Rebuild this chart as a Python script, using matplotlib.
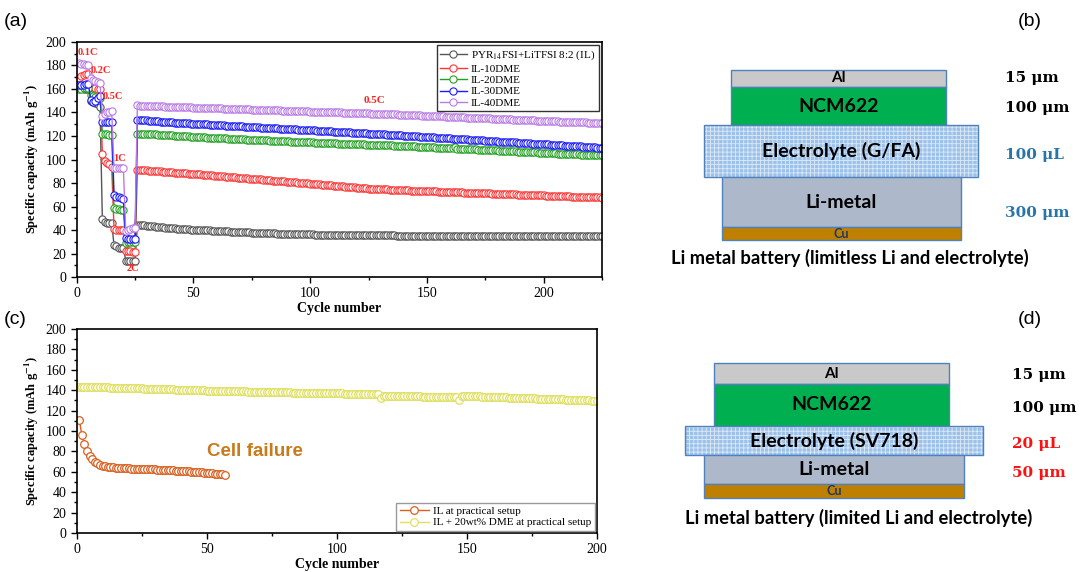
import numpy as np
import matplotlib
matplotlib.use("Agg")
import matplotlib.pyplot as plt
from matplotlib.patches import Rectangle
from matplotlib.ticker import MultipleLocator

plt.rcParams['font.family'] = ['Liberation Serif', 'DejaVu Serif']
plt.rcParams['mathtext.fontset'] = 'stix'
plt.rcParams['hatch.linewidth'] = 0.6

# ---------------- panel (a) data: rate test (cycles 1-25) + 0.5C cycling (26-225)
rate_il = [161, 161, 160, 160, 160, 150, 149, 148, 147, 145, 49, 47, 46, 46, 46,
           27, 26, 25, 25, 25, 14, 14, 14, 14, 14]
rate_10 = [169, 171, 172, 173, 173, 163, 162, 161, 160, 160, 105, 99, 97, 96, 94,
           41, 40, 40, 40, 40, 22, 22, 22, 21, 21]
rate_20 = [160, 160, 161, 161, 161, 155, 154, 153, 152, 152, 122, 122, 122, 121, 121,
           59, 58, 58, 57, 57, 29, 30, 30, 30, 30]
rate_30 = [163, 163, 163, 164, 164, 151, 149, 150, 152, 154, 132, 132, 132, 132, 132,
           70, 68, 68, 67, 66, 33, 32, 32, 32, 32]
rate_40 = [182, 181, 181, 180, 180, 169, 168, 167, 166, 165, 137, 139, 140, 140, 141,
           93, 93, 93, 93, 93, 39, 40, 41, 42, 42]

long_il = [44.5, 44.3, 44.1, 43.9, 43.7, 43.5, 43.3, 43.1, 42.9, 42.7,
           42.5, 42.3, 42.1, 41.9, 41.7, 41.5, 41.4, 41.2, 41.0, 40.9,
           40.8, 40.6, 40.5, 40.4, 40.3, 40.2, 40.1, 40.0, 39.9, 39.8,
           39.7, 39.6, 39.5, 39.4, 39.3, 39.2, 39.1, 39.0, 38.9, 38.8,
           38.7, 38.6, 38.5, 38.4, 38.3, 38.2, 38.1, 38.0, 37.9, 37.8,
           37.8, 37.7, 37.6, 37.5, 37.4, 37.4, 37.3, 37.2, 37.1, 37.1,
           37.0, 36.9, 36.9, 36.8, 36.7, 36.7, 36.6, 36.6, 36.5, 36.5,
           36.4, 36.4, 36.3, 36.3, 36.2, 36.2, 36.1, 36.1, 36.0, 36.0,
           36.0, 35.9, 35.9, 35.9, 35.8, 35.8, 35.8, 35.7, 35.7, 35.7,
           35.7, 35.6, 35.6, 35.6, 35.6, 35.5, 35.5, 35.5, 35.5, 35.5,
           35.4, 35.4, 35.4, 35.4, 35.4, 35.4, 35.4, 35.4, 35.4, 35.4,
           35.4, 35.3, 35.3, 35.3, 35.3, 35.3, 35.3, 35.3, 35.3, 35.3,
           35.3, 35.3, 35.3, 35.3, 35.3, 35.2, 35.2, 35.2, 35.2, 35.2,
           35.2, 35.2, 35.2, 35.2, 35.2, 35.2, 35.2, 35.2, 35.2, 35.2,
           35.1, 35.1, 35.1, 35.1, 35.1, 35.1, 35.1, 35.1, 35.1, 35.1,
           35.1, 35.1, 35.1, 35.1, 35.1, 35.0, 35.0, 35.0, 35.0, 35.0,
           35.0, 35.0, 35.0, 35.0, 35.0, 35.0, 35.0, 35.0, 35.0, 35.0,
           35.0, 35.0, 35.0, 35.0, 35.0, 35.0, 35.0, 35.0, 35.0, 35.0,
           35.0, 35.0, 35.0, 35.0, 35.0, 34.9, 34.9, 34.9, 34.9, 34.9,
           34.9, 34.9, 34.9, 34.9, 34.9, 34.9, 34.9, 34.9, 34.9, 34.9]
long_10 = [91.3, 91.2, 91.0, 90.9, 90.7, 90.6, 90.4, 90.3, 90.1, 90.0,
           89.8, 89.7, 89.5, 89.4, 89.2, 89.1, 88.9, 88.8, 88.6, 88.5,
           88.3, 88.2, 88.0, 87.9, 87.7, 87.6, 87.4, 87.3, 87.1, 86.9,
           86.8, 86.6, 86.5, 86.3, 86.1, 86.0, 85.8, 85.6, 85.5, 85.3,
           85.1, 85.0, 84.8, 84.6, 84.5, 84.3, 84.1, 84.0, 83.8, 83.6,
           83.5, 83.3, 83.1, 83.0, 82.8, 82.6, 82.5, 82.3, 82.1, 82.0,
           81.8, 81.6, 81.5, 81.3, 81.1, 81.0, 80.8, 80.6, 80.5, 80.3,
           80.1, 80.0, 79.8, 79.6, 79.5, 79.3, 79.1, 79.0, 78.8, 78.6,
           78.5, 78.3, 78.1, 78.0, 77.8, 77.6, 77.5, 77.3, 77.1, 77.0,
           76.8, 76.6, 76.5, 76.3, 76.1, 76.0, 75.8, 75.6, 75.5, 75.3,
           75.2, 75.1, 75.0, 74.9, 74.8, 74.7, 74.6, 74.5, 74.4, 74.3,
           74.2, 74.1, 74.0, 73.9, 73.9, 73.8, 73.7, 73.6, 73.6, 73.5,
           73.4, 73.3, 73.3, 73.2, 73.1, 73.0, 73.0, 72.9, 72.8, 72.7,
           72.7, 72.6, 72.5, 72.4, 72.4, 72.3, 72.2, 72.1, 72.1, 72.0,
           71.9, 71.8, 71.8, 71.7, 71.6, 71.6, 71.5, 71.4, 71.3, 71.3,
           71.2, 71.1, 71.0, 71.0, 70.9, 70.8, 70.7, 70.7, 70.6, 70.5,
           70.4, 70.4, 70.3, 70.2, 70.2, 70.1, 70.0, 69.9, 69.9, 69.8,
           69.7, 69.6, 69.6, 69.5, 69.4, 69.3, 69.3, 69.2, 69.1, 69.0,
           69.0, 68.9, 68.8, 68.8, 68.7, 68.6, 68.5, 68.5, 68.4, 68.3,
           68.2, 68.2, 68.1, 68.0, 67.9, 67.9, 67.8, 67.7, 67.7, 67.6]
long_20 = [122.0, 122.1, 122.0, 121.9, 121.8, 121.7, 121.5, 121.4, 121.3, 121.2,
           121.1, 121.0, 120.8, 120.7, 120.6, 120.5, 120.4, 120.2, 120.1, 120.0,
           119.9, 119.8, 119.6, 119.5, 119.4, 119.3, 119.1, 119.0, 118.9, 118.8,
           118.7, 118.6, 118.5, 118.4, 118.3, 118.2, 118.1, 118.0, 117.9, 117.8,
           117.7, 117.6, 117.5, 117.4, 117.3, 117.2, 117.1, 117.0, 116.9, 116.8,
           116.7, 116.6, 116.6, 116.5, 116.4, 116.3, 116.2, 116.1, 116.0, 115.9,
           115.8, 115.8, 115.7, 115.6, 115.5, 115.4, 115.3, 115.2, 115.1, 115.0,
           115.0, 114.9, 114.8, 114.7, 114.6, 114.5, 114.4, 114.4, 114.3, 114.2,
           114.1, 114.0, 113.9, 113.9, 113.8, 113.7, 113.6, 113.5, 113.5, 113.4,
           113.3, 113.2, 113.2, 113.1, 113.0, 112.9, 112.9, 112.8, 112.7, 112.7,
           112.6, 112.5, 112.5, 112.4, 112.3, 112.3, 112.2, 112.1, 112.1, 112.0,
           111.9, 111.8, 111.7, 111.6, 111.5, 111.4, 111.4, 111.3, 111.2, 111.1,
           111.0, 110.9, 110.8, 110.7, 110.6, 110.5, 110.4, 110.3, 110.2, 110.1,
           110.0, 109.9, 109.8, 109.7, 109.6, 109.5, 110.6, 109.3, 109.2, 109.1,
           109.0, 108.9, 108.8, 108.8, 108.7, 108.6, 108.5, 108.4, 108.3, 108.2,
           108.1, 108.0, 107.9, 107.8, 107.7, 107.6, 107.5, 107.4, 107.3, 107.2,
           107.1, 107.0, 106.9, 106.8, 106.7, 106.6, 106.5, 106.4, 106.3, 106.2,
           106.1, 106.0, 105.9, 105.8, 105.7, 105.6, 105.5, 105.4, 105.3, 105.2,
           105.1, 105.0, 104.9, 104.8, 104.8, 104.7, 104.6, 104.5, 104.4, 104.3,
           104.2, 104.2, 104.1, 104.0, 104.0, 103.9, 103.9, 103.8, 103.8, 103.7]
long_30 = [133.8, 133.6, 133.5, 133.3, 133.2, 133.0, 132.9, 132.7, 132.6, 132.4,
           132.3, 132.1, 132.0, 131.8, 131.7, 131.5, 131.4, 131.3, 131.1, 131.0,
           130.9, 130.8, 130.7, 130.6, 130.5, 130.4, 130.3, 130.2, 130.1, 129.9,
           129.8, 129.7, 129.6, 129.5, 129.4, 129.3, 129.2, 129.0, 128.9, 128.8,
           128.7, 128.6, 128.5, 128.4, 128.3, 128.1, 128.0, 127.9, 127.8, 127.7,
           127.6, 127.5, 127.4, 127.2, 127.1, 127.0, 126.9, 126.8, 126.7, 126.6,
           126.5, 126.3, 126.2, 126.1, 126.0, 125.9, 125.8, 125.7, 125.6, 125.4,
           125.3, 125.2, 125.1, 125.0, 124.9, 124.8, 124.7, 124.5, 124.4, 124.3,
           124.2, 124.1, 124.0, 123.9, 123.8, 123.6, 123.5, 123.4, 123.3, 123.2,
           123.1, 123.0, 122.9, 122.7, 122.6, 122.5, 122.4, 122.3, 122.2, 122.1,
           122.0, 121.8, 121.7, 121.6, 121.5, 121.4, 121.3, 121.2, 121.1, 120.9,
           120.8, 120.7, 120.6, 120.5, 120.3, 120.2, 120.1, 120.0, 119.9, 119.7,
           119.6, 119.5, 119.4, 119.3, 119.1, 119.0, 118.9, 118.8, 118.6, 118.5,
           118.4, 118.3, 118.2, 118.0, 117.9, 117.8, 117.7, 117.5, 117.4, 117.3,
           117.2, 117.1, 116.9, 116.8, 116.7, 116.6, 116.4, 116.3, 116.2, 116.1,
           116.0, 115.8, 115.7, 115.6, 115.5, 115.3, 115.2, 115.1, 115.0, 114.9,
           114.7, 114.6, 114.5, 114.4, 114.2, 114.1, 114.0, 113.9, 113.8, 113.6,
           113.5, 113.4, 113.3, 113.1, 113.0, 112.9, 112.8, 112.7, 112.5, 112.4,
           112.3, 112.2, 112.0, 111.9, 111.8, 111.7, 111.6, 111.4, 111.3, 111.2,
           111.1, 110.9, 110.8, 110.7, 110.6, 110.5, 110.3, 110.2, 110.1, 110.0]
long_40 = [146.0, 145.9, 145.8, 145.8, 145.7, 145.6, 145.5, 145.5, 145.4, 145.3,
           145.2, 145.2, 145.1, 145.0, 144.9, 144.9, 144.8, 144.7, 144.6, 144.6,
           144.5, 144.4, 144.3, 144.3, 144.2, 144.1, 144.0, 144.0, 143.9, 143.8,
           143.8, 143.7, 143.6, 143.6, 143.5, 143.4, 143.4, 143.3, 143.2, 143.2,
           143.1, 143.0, 143.0, 142.9, 142.8, 142.8, 142.7, 142.6, 142.6, 142.5,
           142.4, 142.4, 142.3, 142.2, 142.2, 142.1, 142.0, 142.0, 141.9, 141.8,
           141.8, 141.7, 141.6, 141.6, 141.5, 141.4, 141.4, 141.3, 141.2, 141.2,
           141.1, 141.0, 141.0, 140.9, 140.8, 140.8, 140.7, 140.6, 140.6, 140.5,
           140.4, 140.4, 140.3, 140.2, 140.2, 140.1, 140.0, 140.0, 139.9, 139.8,
           139.8, 139.7, 139.6, 139.6, 139.5, 139.4, 139.4, 139.3, 139.2, 139.2,
           139.1, 139.0, 139.0, 138.9, 138.8, 138.8, 138.7, 138.6, 138.6, 138.5,
           138.4, 138.3, 138.2, 138.2, 138.1, 138.0, 137.9, 137.8, 137.7, 137.6,
           137.6, 137.5, 137.4, 137.3, 137.2, 137.1, 137.0, 137.0, 136.9, 136.8,
           136.7, 136.6, 136.5, 136.4, 136.3, 136.3, 136.2, 136.1, 136.0, 135.9,
           135.8, 135.7, 135.7, 135.6, 135.5, 135.4, 135.3, 135.2, 135.1, 135.0,
           135.0, 134.9, 134.8, 134.7, 134.6, 134.5, 134.4, 134.4, 134.3, 134.2,
           134.1, 134.0, 133.9, 133.8, 133.7, 133.7, 133.6, 133.5, 133.4, 133.3,
           133.2, 133.1, 133.1, 133.0, 132.9, 132.8, 132.7, 132.6, 132.5, 132.4,
           132.4, 132.3, 132.2, 132.1, 132.0, 131.9, 131.8, 131.8, 131.7, 131.6,
           131.6, 131.5, 131.5, 131.4, 131.4, 131.3, 131.3, 131.2, 131.2, 131.1]

labels_a = ["PYR$_{14}$FSI+LiTFSI 8:2 (IL)", "IL-10DME", "IL-20DME", "IL-30DME", "IL-40DME"]
colors_a = ["#555555", "#ff3535", "#22a022", "#1a1aff", "#b97be6"]
series_a = [rate_il + long_il, rate_10 + long_10, rate_20 + long_20,
            rate_30 + long_30, rate_40 + long_40]

rate_names = ["0.1C", "0.2C", "0.5C", "1C", "2C", "0.5C"]
rate_pos = [(0.3, 191), (6, 176), (11, 154), (15.5, 101), (21.5, 7), (123, 150)]
rate_fs = [7.5, 7.5, 7.5, 7.5, 7.5, 8]

# ---------------- panel (c) data
c_il = [111, 96, 87, 80, 75.5, 72.5, 70, 68.5, 67, 66,
        65.5, 65, 64.7, 64.4, 64.2, 64.0, 63.8, 63.6, 63.4, 63.3,
        63.2, 63.1, 63.0, 62.9, 62.8, 62.7, 62.6, 62.5, 62.4, 62.3,
        62.2, 62.1, 62.0, 61.8, 61.7, 61.5, 61.4, 61.2, 61.1, 60.9,
        60.7, 60.6, 60.4, 60.2, 60.0, 59.8, 59.6, 59.4, 59.2, 59.0,
        58.7, 58.5, 58.2, 58.0, 57.7, 57.4, 57.0]
c_dme = [143.6, 143.5, 143.4, 143.4, 143.3, 143.2, 143.1, 143.0, 143.0, 142.9,
         142.8, 142.7, 142.6, 142.6, 142.5, 142.4, 142.3, 142.2, 142.2, 142.1,
         142.0, 141.9, 141.8, 141.8, 141.7, 141.6, 141.5, 141.4, 141.4, 141.3,
         141.2, 141.1, 141.0, 141.0, 140.9, 140.8, 140.7, 140.6, 140.6, 140.5,
         140.4, 140.3, 140.3, 140.2, 140.1, 140.0, 140.0, 139.9, 139.8, 139.7,
         139.7, 139.6, 139.5, 139.5, 139.4, 139.3, 139.3, 139.2, 139.1, 139.1,
         139.0, 138.9, 138.9, 138.8, 138.8, 138.7, 138.6, 138.6, 138.5, 138.5,
         138.4, 138.3, 138.3, 138.2, 138.2, 138.1, 138.0, 138.0, 137.9, 137.9,
         137.8, 137.8, 137.7, 137.7, 137.6, 137.6, 137.5, 137.5, 137.4, 137.4,
         137.3, 137.3, 137.2, 137.2, 137.1, 137.1, 137.0, 137.0, 136.9, 136.9,
         136.8, 136.8, 136.7, 136.7, 136.6, 136.6, 136.5, 136.5, 136.4, 136.4,
         136.3, 136.3, 136.2, 136.2, 136.1, 136.1, 132.5, 134.6, 134.5, 134.5,
         134.4, 134.4, 134.3, 134.3, 134.2, 134.2, 134.1, 134.1, 134.0, 134.0,
         133.9, 133.9, 133.8, 133.8, 133.7, 133.7, 133.7, 133.6, 133.6, 133.5,
         133.5, 133.5, 133.4, 133.4, 133.3, 133.3, 130.3, 134.6, 134.5, 134.4,
         134.3, 134.2, 134.1, 134.0, 133.9, 133.8, 133.7, 133.6, 133.5, 133.4,
         133.3, 133.2, 133.1, 133.0, 132.9, 132.8, 132.8, 132.7, 132.6, 132.5,
         132.4, 132.3, 132.2, 132.1, 132.0, 131.9, 131.8, 131.8, 131.7, 131.6,
         131.5, 131.4, 131.3, 131.2, 131.1, 131.0, 130.9, 130.8, 130.8, 130.7,
         130.6, 130.5, 130.4, 130.3, 130.2, 130.1, 130.0, 129.9, 129.8, 129.7]
labels_c = ["IL at practical setup", "IL + 20wt% DME at practical setup"]
colors_c = ["#d9601f", "#e0e060"]

# ---------------- panels (b) and (d): cell stack schematics (pixel boxes x0, x1, y0, y1)
layer_names_b = ["Al", "NCM622", "Electrolyte (G/FA)", "Li-metal", "Cu"]
layer_boxes_b = [(731, 946, 70, 87), (731, 946, 87, 125), (704, 978, 125, 177),
                 (722, 961, 177, 227), (722, 961, 227, 240)]
thick_b = ["15 μm", "100 μm", "100 μL", "300 μm"]
thick_b_y = [78, 108, 155, 213]
thick_b_col = ["black", "black", "#2776aa", "#2776aa"]

layer_names_d = ["Al", "NCM622", "Electrolyte (SV718)", "Li-metal", "Cu"]
layer_boxes_d = [(714, 949, 363, 384), (714, 949, 384, 426), (685, 983, 426, 455),
                 (704, 964, 455, 484), (704, 964, 484, 498)]
thick_d = ["15 μm", "100 μm", "20 μL", "50 μm"]
thick_d_y = [375, 408, 444, 473]
thick_d_col = ["black", "black", "#ff1010", "#ff1010"]

layer_colors = ["#c9c9c9", "#00b050", "#9cc1ea", "#adb9ca", "#bf8000"]
layer_fs = [11, 14, 14, 14, 9]
layer_tc = ["black", "black", "black", "black", "#1f3864"]


fig = plt.figure(figsize=(10.83, 5.72), dpi=100)

# schematic layer in pixel coordinates
sk = fig.add_axes([0, 0, 1, 1])
sk.set_xlim(0, 1083)
sk.set_ylim(572, 0)
sk.axis('off')


def draw_stack(names, boxes, tlabels, ty, tcol, tx, caption, cap_x, cap_y):
    for i, (name, (x0, x1, y0, y1)) in enumerate(zip(names, boxes)):
        if i == 2:
            sk.add_patch(Rectangle((x0, y0), x1 - x0, y1 - y0, facecolor=layer_colors[i],
                                   edgecolor='#dce9f7', hatch='++++', linewidth=0))
            sk.add_patch(Rectangle((x0, y0), x1 - x0, y1 - y0, facecolor='none',
                                   edgecolor='#4f81bd', linewidth=1))
        else:
            sk.add_patch(Rectangle((x0, y0), x1 - x0, y1 - y0, facecolor=layer_colors[i],
                                   edgecolor='#4f81bd', linewidth=1))
        sk.text((x0 + x1) / 2, (y0 + y1) / 2, name, ha='center', va='center',
                fontsize=layer_fs[i], fontweight='bold', color=layer_tc[i], family='Lato')
    for lab, y, c in zip(tlabels, ty, tcol):
        sk.text(tx, y, lab, ha='left', va='center', fontsize=11, fontweight='bold',
                color=c, family='DejaVu Serif')
    sk.text(cap_x, cap_y, caption, ha='center', va='center', fontsize=13.2,
            fontweight='bold', family='Lato')


draw_stack(layer_names_b, layer_boxes_b, thick_b, thick_b_y, thick_b_col, 1005,
           "Li metal battery (limitless Li and electrolyte)", 850, 258)
draw_stack(layer_names_d, layer_boxes_d, thick_d, thick_d_y, thick_d_col, 1012,
           "Li metal battery (limited Li and electrolyte)", 859, 518)

for lab, x, y in [("(a)", 4, 22), ("(b)", 1018, 22), ("(c)", 4, 320), ("(d)", 1018, 320)]:
    sk.text(x, y, lab, ha='left', va='center', fontsize=14, family='Liberation Sans')


def style_axes(ax, xmax, xmaj):
    ax.set_xlim(0, xmax)
    ax.set_ylim(0, 200)
    ax.xaxis.set_major_locator(MultipleLocator(xmaj))
    ax.xaxis.set_minor_locator(MultipleLocator(xmaj / 2))
    ax.yaxis.set_major_locator(MultipleLocator(20))
    ax.yaxis.set_minor_locator(MultipleLocator(10))
    ax.tick_params(which='both', direction='out', top=False, right=False, labelsize=10, width=1)
    ax.tick_params(which='major', length=4)
    ax.tick_params(which='minor', length=2.5)
    for s in ax.spines.values():
        s.set_linewidth(1.2)
    ax.set_xlabel("Cycle number", fontsize=10, fontweight='bold', labelpad=1)
    ax.set_ylabel(r"Specific capacity (mAh g$^{\mathbf{-1}}$)", fontsize=9, fontweight='bold',
                  labelpad=3)


# ---------------- panel (a)
ax1 = fig.add_axes([0.0708, 0.5157, 0.4851, 0.4109])
cyc = np.arange(1, len(rate_il) + len(long_il) + 1)
for vals, lab, col in zip(series_a, labels_a, colors_a):
    ax1.plot(cyc, vals, '-o', color=col, lw=1, ms=5.2, mfc='white', mec=col, mew=0.8, label=lab)
for name, (x, y), fs in zip(rate_names, rate_pos, rate_fs):
    ax1.text(x, y, name, color='#ff2020', fontsize=fs, fontweight='bold', ha='left', va='center')
style_axes(ax1, 225, 50)
ax1.xaxis.set_minor_locator(MultipleLocator(25))
leg = ax1.legend(loc='upper right', fontsize=8, frameon=True, fancybox=False,
                 edgecolor='#333333', framealpha=1, borderaxespad=0.3, handlelength=2.4,
                 labelspacing=0.15, borderpad=0.3, handletextpad=0.4)
leg.get_frame().set_linewidth(1)

# ---------------- panel (c)
ax2 = fig.add_axes([0.0708, 0.0682, 0.4804, 0.3566])
ax2.plot(np.arange(1, len(c_il) + 1), c_il, '-o', color=colors_c[0], lw=1, ms=5.5,
         mfc='white', mec=colors_c[0], mew=0.9, label=labels_c[0])
ax2.plot(np.arange(1, len(c_dme) + 1), c_dme, '-o', color=colors_c[1], lw=1, ms=5.5,
         mfc='white', mec=colors_c[1], mew=0.9, label=labels_c[1])
ax2.text(68.5, 79.5, "Cell failure", color='#c97a1c', fontsize=13.5, fontweight='bold',
         family='Liberation Sans', ha='center', va='center')
style_axes(ax2, 200, 50)
ax2.xaxis.set_minor_locator(MultipleLocator(25))
leg2 = ax2.legend(loc='lower right', fontsize=8, frameon=True, fancybox=False,
                  edgecolor='#999999', framealpha=1, borderaxespad=0.2, handlelength=2.6,
                  labelspacing=0.15, borderpad=0.3, handletextpad=0.4)

fig.savefig("out.png", dpi=100)
